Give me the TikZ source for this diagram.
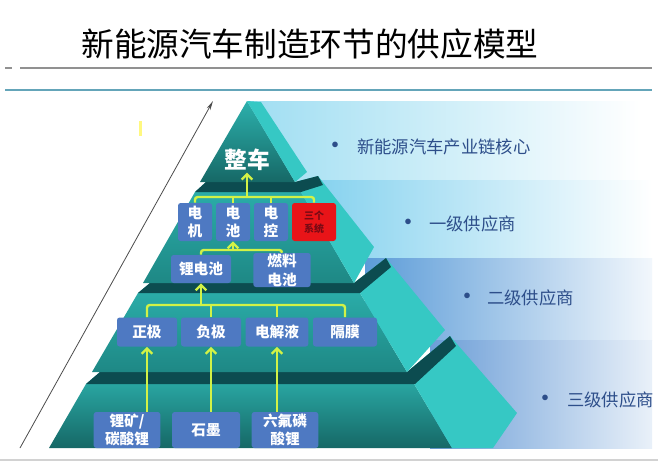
\documentclass[tikz,border=0pt]{standalone}
\usepackage{fontspec}
\setmainfont{Noto Sans CJK SC}
\usetikzlibrary{arrows.meta}
\definecolor{boxblue}{RGB}{78,121,194}
\definecolor{hotred}{RGB}{232,20,24}
\definecolor{hottext}{RGB}{120,10,20}
\definecolor{feedlime}{RGB}{210,242,70}
\definecolor{tagblue}{RGB}{45,78,138}
\definecolor{rulegray}{RGB}{145,145,145}
\definecolor{rulecyan}{RGB}{100,165,185}
\definecolor{bandone}{RGB}{160,222,242}
\definecolor{bandtwo}{RGB}{128,208,238}
\definecolor{bandthree}{RGB}{92,156,216}
\definecolor{bandfour}{RGB}{108,158,215}
\definecolor{sidecyan}{RGB}{54,200,196}
\definecolor{tealtop}{RGB}{44,176,172}
\definecolor{tealmid}{RGB}{30,136,133}
\definecolor{teallow}{RGB}{22,104,102}
\definecolor{tealdark}{RGB}{12,76,80}

\begin{document}
\begin{tikzpicture}[x=0.75pt,y=-0.75pt,
    box/.style={rectangle,rounded corners=2pt,fill=boxblue,text=white,inner sep=0pt,align=center,font=\bfseries\fontsize{11}{14}\selectfont},
    hotbox/.style={box,fill=hotred,text=hottext,font=\bfseries\fontsize{7.5}{10}\selectfont},
    feed/.style={draw=feedlime,line width=1.8pt,rounded corners=2pt},
    feedup/.style={feed,-{Straight Barb[length=4pt,width=8pt]}},
    tag/.style={anchor=west,inner sep=0pt,text=tagblue,font=\fontsize{13}{15}\selectfont},
    tagdot/.style={inner sep=0pt,text=tagblue,font=\bfseries\fontsize{15}{16}\selectfont},
    sideface/.style={fill=sidecyan},
    tiershade/.style={fill=tealdark}]
        \useasboundingbox (0,0) rectangle (658,469);
        \fill[white] (0,0) rectangle (658,469);
        % title
        \node[font=\fontsize{24.5}{26}\selectfont] (title) at (310,44) {新能源汽车制造环节的供应模型};
        \draw[rulegray,line width=1.5pt] (5,68) -- (12,68);
        \draw[rulegray,line width=1.5pt] (20,68) -- (652,68);
        \draw[rulecyan,line width=1.8pt] (5,90) -- (652,90);
        % bands
        \shade[left color=bandone,right color=white] (250,101) rectangle (640,180);
        \shade[left color=bandtwo,right color=white] (300,180) rectangle (652,258);
        \shade[left color=bandthree,right color=white!92!bandthree] (365,258) rectangle (652,340);
        \shade[left color=bandfour,right color=white!85!bandfour] (430,340) rectangle (652,448);
        % tier 4
        \shade[top color=tealtop,bottom color=teallow] (86,384) -- (100,372) -- (407,372) -- (452,448) -- (49,448) -- cycle;
        \fill[sideface] (407,372) -- (450,336) -- (517,413) -- (493,448) -- (452,448) -- cycle;
        \fill[tiershade] (86,384) -- (100,372) -- (407,372) -- (450,336) -- (456,346) -- (415,384) -- cycle;
        % tier 3
        \shade[top color=tealtop,bottom color=tealmid] (138,293) -- (150,283) -- (354,283) -- (407,372) -- (92,372) -- cycle;
        \fill[sideface] (354,283) -- (386,258) -- (445,330) -- (407,372) -- cycle;
        \fill[tiershade] (138,293) -- (150,283) -- (354,283) -- (386,258) -- (391,267) -- (360,293) -- cycle;
        % tier 2
        \shade[top color=tealtop,bottom color=tealmid] (195,192) -- (206,182) -- (295,182) -- (354,283) -- (143,283) -- cycle;
        \fill[sideface] (295,182) -- (318,176) -- (374,247) -- (354,283) -- cycle;
        \fill[tiershade] (195,192) -- (206,182) -- (295,182) -- (318,176) -- (323,185) -- (301,192) -- cycle;
        % tier 1
        \shade[top color=tealtop,bottom color=teallow] (247,101) -- (295,182) -- (200,182) -- cycle;
        \fill[sideface] (247,101) -- (261,102) -- (307,172) -- (295,182) -- cycle;
        % axis
        \coordinate (axisfoot) at (20,448);
        \coordinate (axistip) at (213,101);
        \draw[black!70,line width=0.6pt,-{Stealth[length=7pt,width=3pt]}] (axisfoot) -- (axistip);
        \fill[yellow!50] (138.5,121) rectangle (141.5,136);
        \draw[gray!35,line width=2pt] (0,460) -- (658,460);
        % boxes
        \node[font=\bfseries\fontsize{17}{18}\selectfont,text=white,inner sep=1pt] (car) at (247,160) {整车};
        \node[box,minimum width=25.5pt,minimum height=28.5pt] (dj) at (195,222) {电\\机};
        \node[box,minimum width=25.5pt,minimum height=28.5pt] (dc) at (233,222) {电\\池};
        \node[box,minimum width=25.5pt,minimum height=28.5pt] (dk) at (271,222) {电\\控};
        \node[hotbox,minimum width=33pt,minimum height=28.5pt] (sx) at (314,222) {三个\\系统};
        \node[box,minimum width=45pt,minimum height=21pt] (li) at (201,269) {锂电池};
        \node[box,minimum width=43pt,minimum height=25.5pt] (fc) at (282,270) {燃料\\电池};
        \node[box,minimum width=45pt,minimum height=21.75pt] (zj) at (147,332) {正极};
        \node[box,minimum width=45pt,minimum height=21.75pt] (fj) at (211,332) {负极};
        \node[box,minimum width=47pt,minimum height=21.75pt] (djy) at (277,332) {电解液};
        \node[box,minimum width=48pt,minimum height=21.75pt] (gm) at (345,332) {隔膜};
        \node[box,minimum width=50pt,minimum height=27pt] (kw) at (127,430) {锂矿/\\碳酸锂};
        \node[box,minimum width=51pt,minimum height=27pt] (sm) at (206,430) {石墨};
        \node[box,minimum width=50pt,minimum height=27pt] (lf) at (285,430) {六氟磷\\酸锂};
        % links
        \coordinate (hub1) at (car.south |- 0,197);
        \draw[feed] (dj.north) |- (hub1) -| (sx.north);
        \draw[feed] (dc.north) -- (dc.north |- hub1);
        \draw[feed] (dk.north) -- (dk.north |- hub1);
        \draw[feedup] (hub1) -- (car.south);
        \coordinate (hub2) at (dc.south |- 0,250);
        \draw[feed] (li.north) |- (hub2) -| (fc.north);
        \draw[feedup] (hub2) -- (dc.south);
        \coordinate (hub3) at (li.south |- 0,305);
        \draw[feed] (zj.north) |- (hub3) -| (gm.north);
        \draw[feed] (fj.north) -- (fj.north |- hub3);
        \draw[feed] (djy.north) -- (djy.north |- hub3);
        \draw[feedup] (hub3) -- (li.south);
        \draw[feedup] (zj.south |- kw.north) -- (zj.south);
        \draw[feedup] (fj.south |- sm.north) -- (fj.south);
        \draw[feedup] (djy.south |- lf.north) -- (djy.south);
        % text
        \node[tagdot] (coredot) at (335,147) {•};
        \node[tag] (core) at (357,147) {新能源汽车产业链核心};
        \node[tagdot] (firstdot) at (408,224) {•};
        \node[tag] (first) at (429,224) {一级供应商};
        \node[tagdot] (seconddot) at (467,298) {•};
        \node[tag] (second) at (487,298) {二级供应商};
        \node[tagdot] (thirddot) at (545,400) {•};
        \node[tag] (third) at (567,400) {三级供应商};
    \end{tikzpicture}
\end{document}
